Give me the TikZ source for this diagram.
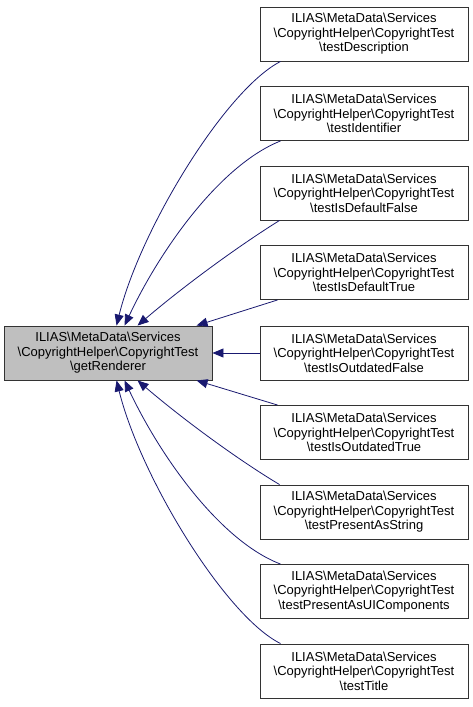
\documentclass[tikz,border=0pt]{standalone}
\usepackage{fontspec}
\setmainfont{Liberation Sans}
\usetikzlibrary{arrows.meta,calc}
\definecolor{edgeblue}{RGB}{25,25,112}
\definecolor{boxgray}{RGB}{191,191,191}
\tikzset{
  cls/.style={draw=black!80, line width=0.9pt, rectangle, minimum width=208pt, minimum height=54pt,
    inner sep=0pt, align=center, font=\fontsize{13}{14.5}\selectfont},
  cur/.style={cls, fill=boxgray},
  dep/.style={draw=edgeblue, line width=0.8pt, -{Triangle[length=11pt,width=9pt,fill=edgeblue]}}
}
\newcommand{\bs}{\textbackslash}
\begin{document}
\begin{tikzpicture}[x=1pt,y=-1pt]
\useasboundingbox (0,0) rectangle (472,707);
\node[cur] (g) at (108,353) {ILIAS\bs MetaData\bs Services\\\bs CopyrightHelper\bs CopyrightTest\\\bs getRenderer};
\node[cls] (t1) at (364,34) {ILIAS\bs MetaData\bs Services\\\bs CopyrightHelper\bs CopyrightTest\\\bs testDescription};
\node[cls] (t2) at (364,113.5) {ILIAS\bs MetaData\bs Services\\\bs CopyrightHelper\bs CopyrightTest\\\bs testIdentifier};
\node[cls] (t3) at (364,193) {ILIAS\bs MetaData\bs Services\\\bs CopyrightHelper\bs CopyrightTest\\\bs testIsDefaultFalse};
\node[cls] (t4) at (364,272.5) {ILIAS\bs MetaData\bs Services\\\bs CopyrightHelper\bs CopyrightTest\\\bs testIsDefaultTrue};
\node[cls] (t5) at (364,353) {ILIAS\bs MetaData\bs Services\\\bs CopyrightHelper\bs CopyrightTest\\\bs testIsOutdatedFalse};
\node[cls] (t6) at (364,432.5) {ILIAS\bs MetaData\bs Services\\\bs CopyrightHelper\bs CopyrightTest\\\bs testIsOutdatedTrue};
\node[cls] (t7) at (364,512) {ILIAS\bs MetaData\bs Services\\\bs CopyrightHelper\bs CopyrightTest\\\bs testPresentAsString};
\node[cls] (t8) at (364,591.5) {ILIAS\bs MetaData\bs Services\\\bs CopyrightHelper\bs CopyrightTest\\\bs testPresentAsUIComponents};
\node[cls] (t9) at (364,671) {ILIAS\bs MetaData\bs Services\\\bs CopyrightHelper\bs CopyrightTest\\\bs testTitle};
% upper edges
\draw[dep] ($(t1.south west)+(21,0)$) .. controls (225,90) and (140,230) .. ($(g.north west)+(113,0)$);
\draw[dep] ($(t2.south west)+(21,0)$) .. controls (220,165) and (160,250) .. ($(g.north west)+(121,0)$);
\draw[dep] ($(t3.south west)+(20,0)$) .. controls (240,245) and (185,285) .. ($(g.north west)+(134,0)$);
\draw[dep] ($(t4.south west)+(18,0)$) -- ($(g.north west)+(193,0)$);
\draw[dep] (t5.west) -- (g.east);
% lower edges
\draw[dep] ($(t6.north west)+(18,0)$) -- ($(g.south west)+(193,0)$);
\draw[dep] ($(t7.north west)+(20,0)$) .. controls (240,461) and (185,421) .. ($(g.south west)+(134,0)$);
\draw[dep] ($(t8.north west)+(21,0)$) .. controls (220,541) and (160,456) .. ($(g.south west)+(121,0)$);
\draw[dep] ($(t9.north west)+(21,0)$) .. controls (225,616) and (140,476) .. ($(g.south west)+(113,0)$);
\end{tikzpicture}
\end{document}
